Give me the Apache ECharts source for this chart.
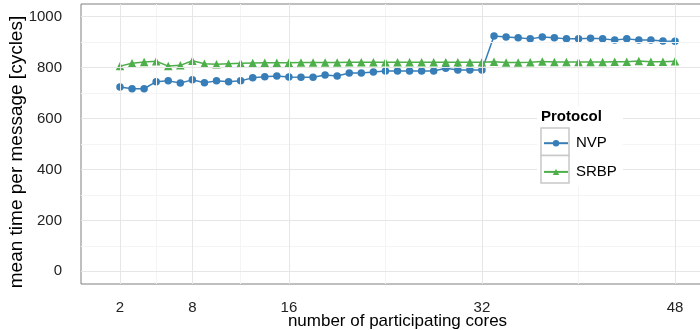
<!DOCTYPE html>
<html>
<head>
<meta charset="utf-8">
<script src="https://cdn.jsdelivr.net/npm/echarts@6/dist/echarts.min.js"></script>
<style>
html,body{margin:0;padding:0;background:#fff;}
#chart{width:700px;height:330px;}
</style>
</head>
<body>
<div id="chart"></div>
<script>
const cores = [2,3,4,5,6,7,8,9,10,11,12,13,14,15,16,17,18,19,20,21,22,23,24,25,26,27,28,29,30,31,32,33,34,35,36,37,38,39,40,41,42,43,44,45,46,47,48];
const nvp = [724,717,717,745,748,740,752,741,748,745,748,760,764,767,763,762,762,771,767,779,779,783,787,787,787,787,787,798,791,791,791,924,920,917,913,920,917,913,913,915,913,909,913,909,909,905,904];
const srbp = [806,817,822,825,806,809,827,815,813,815,817,818,819,819,819,820,820,820,820,821,821,821,821,821,821,821,821,821,821,821,821,823,820,820,821,824,822,822,822,822,822,823,823,826,823,823,825];
const seriesNames = ['NVP','SRBP'];
const xTicks = [2,8,16,32,48];
const xMinor = [5,12,24,40];
const yTicks = [0,200,400,600,800,1000];
const yMinor = [100,300,500,700,900];

const FONT = 'Liberation Sans, Arial, sans-serif';
const chart = echarts.init(document.getElementById('chart'), null, {renderer:'canvas'});

function vline(v, color){ return {xAxis:v, lineStyle:{color:color, width:1, type:'solid'}}; }
function hline(v, color){ return {yAxis:v, lineStyle:{color:color, width:1, type:'solid'}}; }

const gridLines = []
  .concat(xMinor.map(v=>vline(v,'#F4F4F4')))
  .concat(yMinor.map(v=>hline(v,'#F4F4F4')))
  .concat(xTicks.map(v=>vline(v,'#E6E6E6')))
  .concat(yTicks.map(v=>hline(v,'#E6E6E6')));

chart.setOption({
  animation:false,
  backgroundColor:'#ffffff',
  grid:{left:81, top:4, width:633, height:280, outerBoundsMode:'none', containLabel:false,
        show:true, borderColor:'#7F7F7F', borderWidth:1, backgroundColor:'transparent'},
  xAxis:{
    type:'value', min:-1.23, max:51.23,
    name:'number of participating cores', nameLocation:'middle', nameGap:29, nameMoveOverlap:false,
    nameTextStyle:{fontFamily:FONT, fontSize:17, color:'#000'},
    axisLine:{show:false},
    splitLine:{show:false},
    axisTick:{show:true, length:7, customValues:xTicks, lineStyle:{color:'#333', width:1}},
    axisLabel:{customValues:xTicks, margin:16, fontFamily:FONT, fontSize:15, color:'#222'}
  },
  yAxis:{
    type:'value', min:-50, max:1050,
    name:'mean time per message [cycles]', nameLocation:'middle', nameGap:55, nameMoveOverlap:false,
    nameTextStyle:{fontFamily:FONT, fontSize:19, color:'#000', padding:[0,16,0,0]},
    axisLine:{show:false},
    splitLine:{show:false},
    axisTick:{show:true, length:7, customValues:yTicks, lineStyle:{color:'#333', width:1}},
    axisLabel:{customValues:yTicks, margin:19, fontFamily:FONT, fontSize:15, color:'#222',
               formatter:function(v){return String(v);}}
  },
  legend:{
    data:seriesNames, orient:'vertical', left:543, top:135.7, padding:0,
    itemWidth:24, itemHeight:8, itemGap:13.7, z:20,
    textStyle:{fontFamily:FONT, fontSize:15, color:'#000', lineHeight:14, padding:[0,0,0,3]}
  },
  graphic:[
    {type:'rect', z:10, shape:{x:537, y:106, width:86, height:80}, style:{fill:'#ffffff'}},
    {type:'rect', z:11, shape:{x:541, y:128, width:28, height:27.5}, style:{fill:'#ffffff', stroke:'#C8C8C8', lineWidth:1.5}},
    {type:'rect', z:11, shape:{x:541, y:155.5, width:28, height:27.5}, style:{fill:'#ffffff', stroke:'#C8C8C8', lineWidth:1.5}},
    {type:'text', z:12, left:541, top:109, style:{text:'Protocol', font:'bold 15px '+FONT, fill:'#000'}}
  ],
  series:[
    {type:'line', name:'_grid', data:[], silent:true, z:1,
      markLine:{silent:true, symbol:['none','none'], label:{show:false}, animation:false, data:gridLines}},
    {type:'line', name:seriesNames[0], data:cores.map((c,i)=>[c,nvp[i]]), z:3,
      color:'#377EB8', symbol:'circle', symbolSize:7.5, lineStyle:{width:1.5, color:'#377EB8'}, itemStyle:{color:'#377EB8'}},
    {type:'line', name:seriesNames[1], data:cores.map((c,i)=>[c,srbp[i]]), z:3,
      color:'#4DAF4A', symbol:'triangle', symbolSize:8.5, lineStyle:{width:1.5, color:'#4DAF4A'}, itemStyle:{color:'#4DAF4A'}}
  ]
});
</script>
</body>
</html>
